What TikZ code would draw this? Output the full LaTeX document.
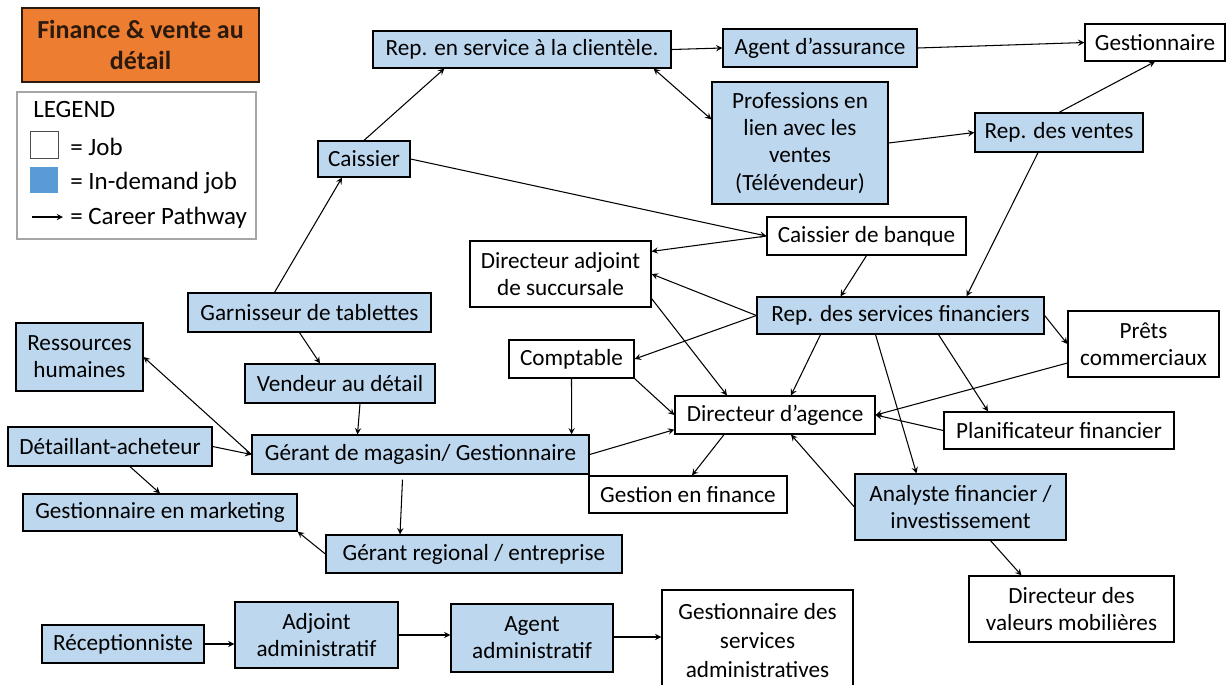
\documentclass[tikz,border=0pt]{standalone}
\usepackage{fontspec}
\setmainfont{Carlito}
\usetikzlibrary{calc}
\definecolor{demandblue}{HTML}{BDD7EE}
\definecolor{legendblue}{HTML}{5B9BD5}
\definecolor{titleorange}{HTML}{ED7D31}
\definecolor{titletext}{HTML}{2B1A0E}
\definecolor{legendgray}{HTML}{A6A6A6}
\begin{document}
\begin{tikzpicture}[x=0.02cm,y=-0.02cm,
    job/.style={draw=black,line width=0.7pt,fill=white,align=center,inner sep=0pt,
      font=\fontsize{13.2}{15.5}\selectfont},
    demand/.style={job,fill=demandblue},
    sz/.style 2 args={minimum width=#1*0.02cm,minimum height=#2*0.02cm},
    legtext/.style={anchor=west,inner sep=0pt,font=\fontsize{14.2}{16}\selectfont},
    pathway/.style={->,>=stealth,line width=0.6pt}]
  \useasboundingbox (0,0) rectangle (1226,684);

  \node[draw=titletext,line width=0.8pt,fill=titleorange,sz={237}{74},align=center,
    inner sep=0pt,text=titletext,font=\fontsize{14.8}{17.5}\selectfont\bfseries]
    (title) at (140.5,45) {Finance \& vente au\\détail};

  \node[draw=legendgray,line width=1.2pt,sz={239}{147}] (legend) at (136.5,165.5) {};
  \node[legtext] (legtitle) at (33,109) {LEGEND};
  \node[draw=black!70,line width=0.5pt,sz={28}{27}] (legjob) at (44,144.5) {};
  \node[fill=legendblue,sz={28}{26}] (legdemand) at (44,180) {};
  \coordinate (legfrom) at (32,217);
  \coordinate (legto) at (63,217);
  \draw[pathway] (legfrom) -- (legto);
  \node[legtext] (legtxtjob) at (70,147) {= Job};
  \node[legtext] (legtxtdemand) at (70,183) {= In-demand job};
  \node[legtext] (legtxtpath) at (70,218) {= Career Pathway};

  \node[demand,sz={298}{37}] (rsc) at (522,49.5) {Rep. en service à la clientèle.};
  \node[demand,sz={194}{38}] (agass) at (820,48) {Agent d’assurance};
  \node[job,sz={140}{37}] (gest) at (1155,42.5) {Gestionnaire};
  \node[demand,sz={176}{122}] (prof) at (800,143) {Professions en\\lien avec les\\ventes\\(Télévendeur)};
  \node[demand,sz={168}{39}] (rventes) at (1059,132.5) {Rep. des ventes};
  \node[demand,sz={92}{36}] (caissier) at (364,159) {Caissier};
  \node[job,sz={199}{38}] (cbanque) at (866.5,236) {Caissier de banque};
  \node[job,sz={181}{66}] (diradj) at (560.5,274) {Directeur adjoint\\de succursale};
  \node[demand,sz={287}{37}] (rsf) at (900.5,315.5) {Rep. des services financiers};
  \node[job,sz={151}{66}] (prets) at (1143.5,344) {Prêts\\commerciaux};
  \node[job,sz={125}{38}] (compt) at (571.5,359) {Comptable};
  \node[job,sz={200}{38}] (dirag) at (775,415) {Directeur d’agence};
  \node[job,sz={230}{37}] (planif) at (1059,430.5) {Planificateur financier};
  \node[job,sz={198}{37}] (gfin) at (688,494.5) {Gestion en finance};
  \node[demand,sz={211}{66}] (analyste) at (960.5,507) {Analyste financier /\\investissement};
  \node[job,sz={205}{66}] (dirval) at (1071.5,609) {Directeur des\\valeurs mobilières};
  \node[demand,sz={243}{39}] (garn) at (309.5,312.5) {Garnisseur de tablettes};
  \node[demand,sz={127}{68}] (rh) at (79.5,357) {Ressources\\humaines};
  \node[demand,sz={190}{39}] (vend) at (340,383.5) {Vendeur au détail};
  \node[demand,sz={204}{39}] (detail) at (110,446.5) {Détaillant-acheteur};
  \node[demand,sz={337}{39}] (gerant) at (420.5,454.5) {Gérant de magasin/ Gestionnaire};
  \node[demand,sz={274}{37}] (gmark) at (160,512.5) {Gestionnaire en marketing};
  \node[demand,sz={296}{38}] (gerreg) at (474,554) {Gérant regional / entreprise};
  \node[demand,sz={162}{38}] (recep) at (123,644) {Réceptionniste};
  \node[demand,sz={163}{66}] (adjadm) at (316.5,635) {Adjoint\\administratif};
  \node[demand,sz={162}{68}] (agadm) at (532,638) {Agent\\administratif};
  \node[job,sz={191}{102},font=\fontsize{13.2}{16.5}\selectfont] (gsadm) at (757.5,641) {Gestionnaire des\\services\\administratives};

  \draw[pathway] (caissier.north) -- ($(rsc.south west)+(72,0)$);
  \draw[pathway] ($(garn.north)+(-35,0)$) -- ($(caissier.south)+(-22,0)$);
  \draw[pathway] (rsc.east) -- (agass.west);
  \draw[pathway,<->] ($(rsc.south east)+(-18,0)$) -- ($(prof.north west)+(0,38)$);
  \draw[pathway] (agass.east) -- (gest.west);
  \draw[pathway] (prof.east) -- (rventes.west);
  \draw[pathway] (rventes.north) -- (gest.south);
  \draw[pathway] ($(rventes.south)+(-21,0)$) -- ($(rsf.north)+(66,0)$);
  \draw[pathway] (caissier.east) -- (cbanque.west);
  \draw[pathway] (cbanque.west) -- ($(diradj.north east)+(0,11)$);
  \draw[pathway] (cbanque.south) -- ($(rsf.north)+(-60,0)$);
  \draw[pathway] (rsf.west) -- (diradj.east);
  \draw[pathway] (rsf.west) -- (compt.east);
  \draw[pathway] ($(diradj.south east)+(0,-9)$) -- ($(dirag.north)+(-48,0)$);
  \draw[pathway] ($(rsf.south)+(-80,0)$) -- ($(dirag.north)+(16,0)$);
  \draw[pathway] (rsf.east) -- (prets.west);
  \draw[pathway] ($(rsf.south)+(38,0)$) -- ($(planif.north)+(-71,0)$);
  \draw[pathway] ($(rsf.south)+(-25,0)$) -- ($(analyste.north)+(-44,0)$);
  \draw[pathway] ($(prets.west)+(0,19)$) -- (dirag.east);
  \draw[pathway] (planif.west) -- (dirag.east);
  \draw[pathway] (analyste.west) -- ($(dirag.south)+(16,0)$);
  \draw[pathway] ($(analyste.south)+(30,0)$) -- ($(dirval.north)+(-50,0)$);
  \draw[pathway] ($(dirag.south)+(-51,0)$) -- ($(gfin.north)+(4,0)$);
  \draw[pathway] (compt.south) -- ($(gerant.north east)+(-18,0)$);
  \draw[pathway] (compt.south east) -- (dirag.west);
  \draw[pathway] (gerant.east) -- ($(dirag.south west)+(0,-5)$);
  \draw[pathway] ($(garn.south)+(-10,0)$) -- ($(vend.north)+(-20,0)$);
  \draw[pathway] ($(vend.south)+(20,0)$) -- ($(gerant.north)+(-63,0)$);
  \draw[pathway] (gerant.west) -- (rh.east);
  \draw[pathway] (detail.east) -- (gerant.west);
  \draw[pathway] ($(detail.south)+(20,0)$) -- (gmark.north);
  \draw[pathway] ($(gerant.south)+(-18,5)$) -- ($(gerreg.north)+(-74,0)$);
  \draw[pathway] (gerreg.west) -- (gmark.south east);
  \draw[pathway] (recep.east) -- (recep.east -| adjadm.west);
  \draw[pathway] (adjadm.east) -- (adjadm.east -| agadm.west);
  \draw[pathway] ($(agadm.east)+(0,-1)$) -- ($(agadm.east -| gsadm.west)+(0,-1)$);
\end{tikzpicture}
\end{document}
